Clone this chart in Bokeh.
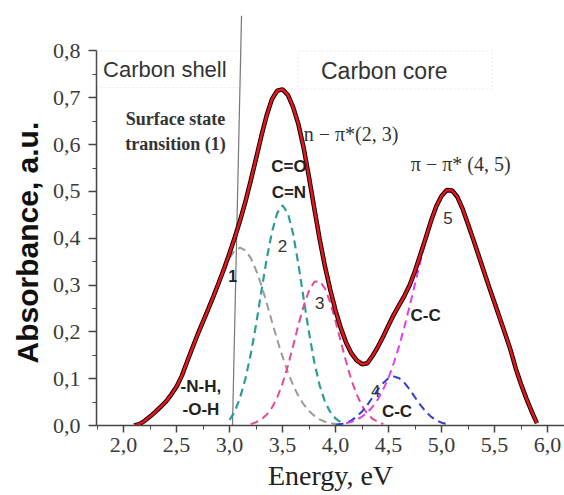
from bokeh.plotting import figure
from bokeh.models import Range1d, FixedTicker, CustomJSTickFormatter, Label, BoxAnnotation, Title
from bokeh.embed import file_html
from bokeh.resources import INLINE

# ---- data ----
energy_main = [2.10, 2.15, 2.20, 2.25, 2.30, 2.35, 2.40, 2.45, 2.50, 2.55, 2.60, 2.65, 2.70, 2.75,
               2.80, 2.85, 2.90, 2.95, 3.00, 3.05, 3.10, 3.15, 3.20, 3.25, 3.30, 3.35, 3.40, 3.45,
               3.50, 3.55, 3.60, 3.65, 3.70, 3.75, 3.80, 3.85, 3.90, 3.95, 4.00, 4.05, 4.10, 4.15,
               4.20, 4.25, 4.30, 4.35, 4.40, 4.45, 4.50, 4.55, 4.60, 4.65, 4.70, 4.75, 4.80, 4.85,
               4.90, 4.95, 5.00, 5.05, 5.10, 5.15, 5.20, 5.25, 5.30, 5.35, 5.40, 5.45, 5.50, 5.55,
               5.60, 5.65, 5.70, 5.75, 5.80, 5.85, 5.90]
absorb_main = [0.000, 0.003, 0.010, 0.019, 0.029, 0.040, 0.051, 0.066, 0.083, 0.106, 0.136, 0.166, 0.195, 0.222,
               0.249, 0.277, 0.306, 0.336, 0.368, 0.402, 0.438, 0.478, 0.523, 0.570, 0.618, 0.662, 0.697, 0.715,
               0.718, 0.706, 0.680, 0.643, 0.592, 0.530, 0.463, 0.398, 0.340, 0.290, 0.246, 0.208, 0.177, 0.154,
               0.139, 0.131, 0.133, 0.149, 0.168, 0.190, 0.214, 0.237, 0.257, 0.277, 0.300, 0.330, 0.365, 0.400,
               0.436, 0.468, 0.490, 0.503, 0.502, 0.488, 0.462, 0.430, 0.397, 0.363, 0.329, 0.295, 0.262, 0.229,
               0.196, 0.162, 0.122, 0.088, 0.058, 0.030, 0.005]

energy_1 = [3.00, 3.05, 3.10, 3.15, 3.20, 3.25, 3.30, 3.35, 3.40, 3.45, 3.50, 3.55, 3.60, 3.65,
            3.70, 3.75, 3.80, 3.85, 3.90, 3.95, 4.00]
absorb_1 = [0.358, 0.374, 0.380, 0.374, 0.358, 0.332, 0.300, 0.262, 0.222, 0.183, 0.147, 0.114, 0.086, 0.063,
            0.045, 0.031, 0.021, 0.013, 0.008, 0.005, 0.003]

energy_2 = [3.00, 3.05, 3.10, 3.15, 3.20, 3.25, 3.30, 3.35, 3.40, 3.45, 3.50, 3.55, 3.60, 3.65,
            3.70, 3.75, 3.80, 3.85, 3.90, 3.95, 4.00, 4.05]
absorb_2 = [0.012, 0.030, 0.060, 0.100, 0.152, 0.215, 0.286, 0.355, 0.413, 0.454, 0.470, 0.454, 0.409, 0.344,
            0.270, 0.198, 0.135, 0.086, 0.051, 0.029, 0.015, 0.007]

energy_3 = [3.20, 3.25, 3.30, 3.35, 3.40, 3.45, 3.50, 3.55, 3.60, 3.65, 3.70, 3.75, 3.80, 3.85,
            3.90, 3.95, 4.00, 4.05, 4.10, 4.15, 4.20, 4.25, 4.30, 4.35, 4.40, 4.45]
absorb_3 = [0.003, 0.007, 0.013, 0.023, 0.038, 0.060, 0.090, 0.127, 0.170, 0.215, 0.256, 0.288, 0.307, 0.308,
            0.293, 0.263, 0.223, 0.179, 0.136, 0.097, 0.066, 0.042, 0.025, 0.014, 0.008, 0.003]

energy_4 = [4.00, 4.05, 4.10, 4.15, 4.20, 4.25, 4.30, 4.35, 4.40, 4.45, 4.50, 4.55, 4.60, 4.65,
            4.70, 4.75, 4.80, 4.85, 4.90, 4.95, 5.00, 5.05]
absorb_4 = [0.002, 0.003, 0.006, 0.011, 0.019, 0.030, 0.044, 0.060, 0.077, 0.091, 0.101, 0.105, 0.101, 0.091,
            0.077, 0.060, 0.044, 0.030, 0.019, 0.011, 0.006, 0.003]

energy_5 = [4.10, 4.15, 4.20, 4.25, 4.30, 4.35, 4.40, 4.45, 4.50, 4.55, 4.60, 4.65, 4.70, 4.75,
            4.80, 4.85, 4.90, 4.95, 5.00, 5.05, 5.10, 5.15, 5.20]
absorb_5 = [0.005, 0.008, 0.012, 0.019, 0.028, 0.040, 0.056, 0.077, 0.102, 0.134, 0.170, 0.211, 0.256, 0.303,
            0.350, 0.395, 0.434, 0.466, 0.488, 0.499, 0.498, 0.485, 0.460]

x_ticks = [2.0, 2.5, 3.0, 3.5, 4.0, 4.5, 5.0, 5.5, 6.0]
x_minor = [1.75, 2.25, 2.75, 3.25, 3.75, 4.25, 4.75, 5.25, 5.75]
y_ticks = [0.0, 0.1, 0.2, 0.3, 0.4, 0.5, 0.6, 0.7, 0.8]
y_minor = [0.05, 0.15, 0.25, 0.35, 0.45, 0.55, 0.65, 0.75]

# ---- figure ----
p = figure(width=564, height=495, x_range=Range1d(1.745, 6.16), y_range=Range1d(0, 0.88),
           output_backend="svg", toolbar_location=None,
           min_border_left=96, min_border_right=0, min_border_top=13, min_border_bottom=70)
p.outline_line_color = None
p.grid.visible = False

fmt = CustomJSTickFormatter(code="return tick.toFixed(1).replace('.', ',');")
for ax in (p.xaxis[0], p.yaxis[0]):
    ax.formatter = fmt
    ax.major_label_text_font = "Liberation Serif"
    ax.major_label_text_color = "#3a3a3a"
    ax.axis_line_color = "#444444"
    ax.axis_line_width = 1.5
    ax.major_tick_line_color = "#444444"
    ax.minor_tick_line_color = "#444444"
    ax.major_tick_line_width = 1.5
    ax.major_tick_in = 0
    ax.minor_tick_in = 0
p.xaxis.ticker = FixedTicker(ticks=x_ticks, minor_ticks=x_minor)
p.yaxis.ticker = FixedTicker(ticks=y_ticks, minor_ticks=y_minor)
p.xaxis.major_label_text_font_size = "22px"
p.yaxis.major_label_text_font_size = "22px"
p.xaxis.major_tick_out = 7
p.xaxis.minor_tick_out = 4
p.yaxis.major_tick_out = 8
p.yaxis.minor_tick_out = 4
p.xaxis.major_label_standoff = 5
p.yaxis.major_label_standoff = 8
p.yaxis.bounds = (0, 0.8)

p.xaxis.axis_label = "Energy, eV"
p.xaxis.axis_label_text_font = "Liberation Serif"
p.xaxis.axis_label_text_font_size = "28px"
p.xaxis.axis_label_text_font_style = "normal"
p.xaxis.axis_label_text_color = "#222222"
p.xaxis.axis_label_standoff = 5

ytitle = Title(text="Absorbance, a.u.", align="left", offset=62, text_font="Liberation Sans",
               text_font_size="30px", text_font_style="bold", text_color="#111111", standoff=12)
p.add_layout(ytitle, "left")

# boxes and boundary line
p.add_layout(BoxAnnotation(left=1.745, right=3.11, bottom=0.722, top=0.80, fill_alpha=0,
                           line_color="#bbbbbb", line_dash="2 2", line_width=1))
p.add_layout(BoxAnnotation(left=3.65, right=5.48, bottom=0.719, top=0.80, fill_alpha=0,
                           line_color="#bbbbbb", line_dash="2 2", line_width=1))
p.segment(x0=[3.113], y0=[0.875], x1=[3.028], y1=[0.0], line_color="#777777", line_width=1.2)

# components
dash = "8 5"
p.line(energy_1, absorb_1, line_color="#9a9a9a", line_width=2, line_dash=dash)
p.line(energy_2, absorb_2, line_color="#2e9c96", line_width=2.2, line_dash=dash)
p.line(energy_3, absorb_3, line_color="#e6479b", line_width=2, line_dash=dash)
p.line(energy_4, absorb_4, line_color="#2f3fcf", line_width=2, line_dash=dash)
p.line(energy_5, absorb_5, line_color="#e23ef2", line_width=2, line_dash=dash)

# main spectrum
p.line(energy_main, absorb_main, line_color="black", line_width=4.5)
p.line(energy_main, absorb_main, line_color="#e8141c", line_width=2.6)


def lab(x, y, text, font="Liberation Sans", size="17px", style="bold", color="#222222",
        align="center", angle=0):
    p.add_layout(Label(x=x, y=y, text=text, text_font=font, text_font_size=size,
                       text_font_style=style, text_color=color, text_align=align,
                       text_baseline="middle", angle=angle))


lab(2.39, 0.760, "Carbon shell", size="22px", style="normal", color="#333333")
lab(4.46, 0.757, "Carbon core", size="23px", style="normal", color="#333333")
lab(2.49, 0.655, "Surface state", font="Liberation Serif", size="18px", color="#333333")
lab(2.49, 0.601, "transition (1)", font="Liberation Serif", size="18px", color="#333333")
lab(3.70, 0.622, "n − π*(2, 3)", font="Liberation Serif", size="20px", style="normal",
    color="#333333", align="left")
lab(4.71, 0.558, "π − π* (4, 5)", font="Liberation Serif", size="20px", style="normal",
    color="#333333", align="left")
lab(3.56, 0.554, "C=O")
lab(3.56, 0.497, "C=N")
lab(2.73, 0.083, "-N-H,")
lab(2.73, 0.034, "-O-H")
lab(4.85, 0.235, "C-C")
lab(4.58, 0.030, "C-C")
lab(3.03, 0.319, "1", size="16px")
lab(3.50, 0.383, "2", size="17px", style="normal", color="#333333")
lab(3.85, 0.262, "3", size="17px", style="normal", color="#333333")
lab(4.38, 0.073, "4", size="17px", style="normal", color="#333333")
lab(5.06, 0.443, "5", size="17px", style="normal", color="#333333")

open("out.html", "w").write(file_html(p, INLINE))
